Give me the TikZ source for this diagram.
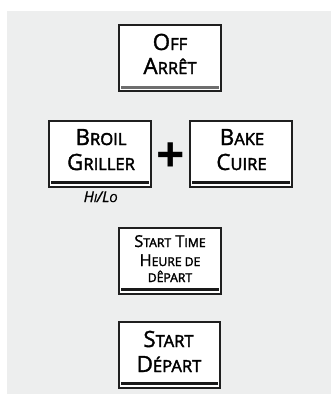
\documentclass[tikz,border=0pt]{standalone}
\usepackage{fontspec}
\setmainfont{Open Sans}
\newfontface\keyfont{Open Sans}[FakeBold=1.4]
\newfontface\keyfontsc{Open Sans}[FakeBold=2.4]
\newfontface\keyfontit{Open Sans Italic}[FakeBold=1.2]
\newfontface\keyfontitsc{Open Sans Italic}[FakeBold=2.2]
\usepackage{graphicx}
\definecolor{bg}{HTML}{EDEEEE}
\definecolor{bargray}{HTML}{6E6E6E}
\newcommand\smc[1]{\scalebox{0.74}{\keyfontsc #1}}
\newcommand\smci[1]{\scalebox{0.74}{\keyfontitsc #1}}
\begin{document}
\begin{tikzpicture}[x=1bp,y=-1bp,
  keybox/.style={draw=black!88,line width=2bp,fill=white,minimum width=101bp,minimum height=66bp,inner sep=0pt,outer sep=0pt},
  bar/.style={line width=3bp,draw=black!90},
  big/.style={anchor=base,inner sep=0pt,font=\keyfont\fontsize{22.5}{24}\selectfont},
  mid/.style={anchor=base,inner sep=0pt,font=\keyfont\fontsize{16.5}{18}\selectfont},
  note/.style={anchor=base,inner sep=0pt,font=\keyfontit\fontsize{15}{16}\selectfont}]
\useasboundingbox (0,0) rectangle (331,394);
\fill[bg] (7,11) rectangle (331,394);

% OFF
\node[keybox] (off) at (170,58) {};
\draw[bar,draw=bargray] ([xshift=2bp,yshift=3.5bp]off.south west) -- ([xshift=-2bp,yshift=3.5bp]off.south east);
\node[big] (off1) at (170,50) {O\smc{FF}};
\node[big] (off2) at (170,74) {A\smc{RRÊT}};

% BROIL
\node[keybox] (broil) at (100,153.5) {};
\draw[bar] ([xshift=2bp,yshift=4.5bp]broil.south west) -- ([xshift=-2bp,yshift=4.5bp]broil.south east);
\node[big] (broil1) at (101,145) {B\smc{ROIL}};
\node[big] (broil2) at (101,170) {G\smc{RILLER}};
\node[note] (hilo) at (100.5,202) {H\smci{I}/L\smci{O}};

% plus
\node[anchor=center,inner sep=0pt,font=\fontsize{50}{50}\selectfont\bfseries] (plus) at (171,158) {+};

% BAKE
\node[keybox] (bake) at (241,153.5) {};
\draw[bar] ([xshift=2bp,yshift=4.5bp]bake.south west) -- ([xshift=-2bp,yshift=4.5bp]bake.south east);
\node[big] (bake1) at (242,145) {B\smc{AKE}};
\node[big] (bake2) at (241.5,170) {C\smc{UIRE}};

% START TIME
\node[keybox] (stt) at (170,260.5) {};
\draw[bar] ([xshift=2bp,yshift=4.5bp]stt.south west) -- ([xshift=-2bp,yshift=4.5bp]stt.south east);
\node[mid] (stt1) at (170,247) {S\smc{TART} T\smc{IME}};
\node[mid] (stt2) at (170,266) {H\smc{EURE DE}};
\node[mid] (stt3) at (170,282) {\smc{DÊPART}};

% START
\node[keybox] (start) at (169.5,354.5) {};
\draw[bar] ([xshift=2bp,yshift=4.5bp]start.south west) -- ([xshift=-2bp,yshift=4.5bp]start.south east);
\node[big] (start1) at (168.5,347) {S\smc{TART}};
\node[big] (start2) at (169,372) {D\smc{ÉPART}};
\end{tikzpicture}
\end{document}
